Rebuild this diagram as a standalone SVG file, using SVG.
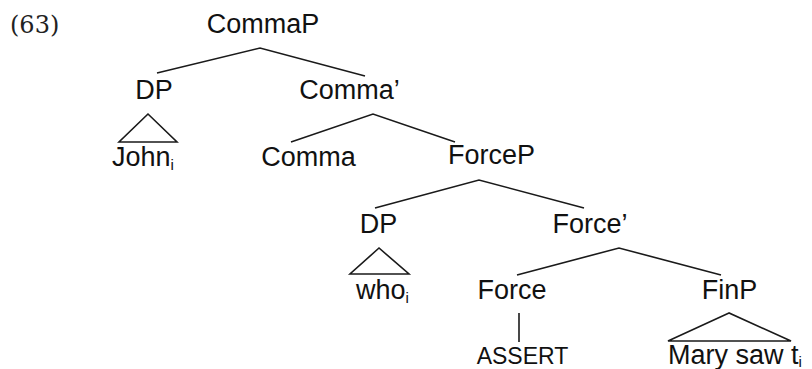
<svg xmlns="http://www.w3.org/2000/svg" width="812" height="369" viewBox="0 0 812 369">
<style>
text{font-family:"Liberation Sans",Arial,sans-serif;fill:#111}
.n{font-size:27px}
.m{text-anchor:middle}
.s{font-size:15px}
.a{font-size:23px}
.ex{font-family:"DejaVu Serif","Liberation Serif",serif;font-size:24px;fill:#222}
.e line,.e polygon,.e polyline{stroke:#1a1a1a;stroke-width:1.6;fill:none;stroke-linejoin:miter}
</style>
<rect width="812" height="369" fill="#fff"/>
<text class="ex" x="10" y="33">(63)</text>
<g id="connectors" class="e">
<polyline points="157,73 260,48 365,76"/>
<polygon points="148,114 119,142 177,142"/>
<polyline points="291,142 373,114 455,142"/>
<polyline points="375,208 479,180 584,208"/>
<polygon points="379,248 350,274 409,274"/>
<polyline points="517,275 619,248 721,275"/>
<line x1="519" y1="313" x2="519" y2="342"/>
<polygon points="729,313 668,341 791,341"/>
</g>
<g id="CommaP"><text class="n m" x="263" y="33">CommaP</text></g>
<g id="DP1"><text class="n m" x="154" y="99">DP</text></g>
<g id="CommaBar"><text class="n m" x="349.5" y="99">Comma’</text></g>
<g id="John"><text class="n" x="112" y="166">John<tspan class="s" dy="4">i</tspan></text></g>
<g id="Comma"><text class="n m" x="308.5" y="166">Comma</text></g>
<g id="ForceP"><text class="n m" x="491.5" y="164">ForceP</text></g>
<g id="DP2"><text class="n m" x="378.5" y="233">DP</text></g>
<g id="ForceBar"><text class="n m" x="590" y="233">Force’</text></g>
<g id="who"><text class="n" x="356" y="299">who<tspan class="s" dy="4">i</tspan></text></g>
<g id="Force"><text class="n m" x="512" y="299">Force</text></g>
<g id="FinP"><text class="n m" x="729.5" y="299">FinP</text></g>
<g id="ASSERT"><text class="a m" x="522.5" y="364">ASSERT</text></g>
<g id="Mary"><text class="n" x="668" y="364">Mary saw t<tspan class="s" dy="3">i</tspan></text></g>
</svg>
